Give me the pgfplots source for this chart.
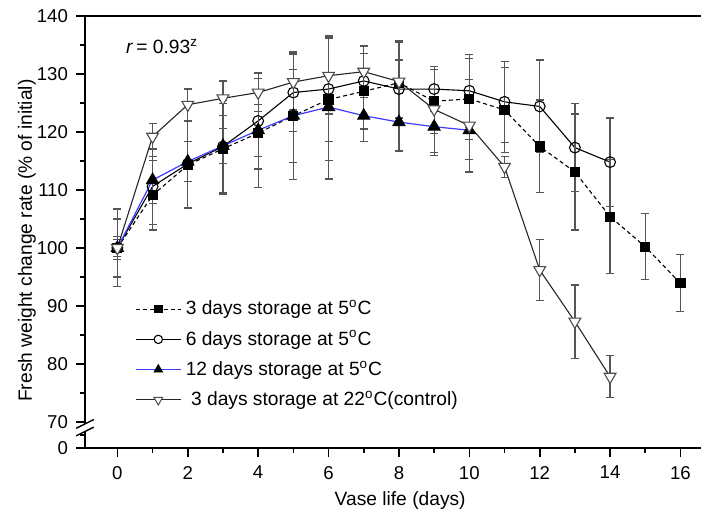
\documentclass[border=0pt]{standalone}
\usepackage{fontspec}
\setmainfont{Liberation Sans}
\usepackage{pgfplots}
\usepackage{pgfplotstable}
\pgfplotsset{compat=1.18}
\definecolor{ebar}{RGB}{85,85,85}
\definecolor{lineblue}{RGB}{60,60,255}

% day, mean, error
\pgfplotstableread{
x y e
0 100 1.5
1 109.1 6
2 114.3 7.5
3 117.1 7.8
4 119.8 9.4
5 122.8 11
6 125.6 10.5
7 127.0 6.5
8 128.5 7
9 125.3 5.5
10 125.7 7
11 123.8 7.3
12 117.5 8
13 113.1 10
14 105.4 9.8
15 100.2 5.7
16 93.9 4.9
}\tA
\pgfplotstableread{
x y e
0 100 5
1 110.6 6.5
2 114.5 7.5
3 117.5 8
4 121.9 8.3
5 126.8 6.7
6 127.4 9
7 128.8 6
8 127.4 5
9 127.4 3.9
10 127.1 6.3
11 125.2 7
12 124.4 8
13 117.3 7.6
14 114.8 7.6
}\tB
\pgfplotstableread{
x y e
0 100 2
1 111.7 4
2 114.9 3.5
3 117.6 3
4 120.3 4.5
5 122.8 8
6 124.3 12.4
7 122.8 4.5
8 121.7 5
9 120.9 5
10 120.3 5
}\tC
\pgfplotstableread{
x y e
0 100 6.7
1 119.2 2.2
2 124.7 2.7
3 125.8 3
4 126.8 3.3
5 128.6 4.8
6 129.7 6.6
7 130.4 4.5
8 128.7 7
9 123.9 7.4
10 121.1 8
11 114.0 1.8
12 96.2 5.3
13 87.3 6.3
14 77.8 3.6
}\tD

\begin{document}
\begin{tikzpicture}
\useasboundingbox (-42.5pt,-32pt) rectangle (308pt,224pt);
\begin{axis}[
  at={(0,0)}, anchor=south west,
  scale only axis, width=309pt, height=216pt,
  xmin=-0.92, xmax=16.64, ymin=65.5, ymax=140,
  clip=false,
  axis line style={line width=0.9pt},
  tick pos=left, tick align=outside,
  major tick length=4.5pt, minor tick length=2.5pt,
  tick style={line width=0.8pt, black},
  xtick={0,2,...,16}, minor xtick={1,3,...,15},
  ytick={65.5,70,80,...,140}, yticklabels={0,70,80,90,100,110,120,130,140},
  minor ytick={67.75,75,85,...,135},
  /pgf/number format/assume math mode=true,
  tick label style={font=\fontsize{9.3}{11}\selectfont},
  xticklabel style={yshift=-1pt},
  yticklabel style={xshift=-0.5pt},
  xlabel={Vase life (days)},
  ylabel={Fresh weight change rate (\% of initial)},
  label style={font=\fontsize{9.6}{11}\selectfont},
  xlabel style={at={(axis description cs:0.51,-0.122)}, anchor=center},
  ylabel style={at={(axis description cs:-0.094,0.48)}, anchor=center},
  legend style={draw=none, fill=none, at={(rel axis cs:0.08,0.352)}, anchor=north west,
    font=\fontsize{9.6}{11}\selectfont, row sep=2.4pt, inner sep=0pt},
  legend cell align=left,
  error bars/error bar style={color=ebar, line width=0.6pt, solid},
  error bars/error mark options={rotate=90, mark size=2pt, line width=0.6pt, color=ebar},
]
\addplot[forget plot, color=black, line width=0.55pt, dash pattern=on 2pt off 1.5pt, mark=square*,
  mark size=2.25pt, mark options={solid, fill=black},
  error bars/.cd, y dir=both, y explicit]
  table[x=x, y=y, y error=e] {\tA};
\addplot[forget plot, color=black, line width=0.55pt, mark=o, mark size=2.7pt, mark options={fill=white},
  error bars/.cd, y dir=both, y explicit]
  table[x=x, y=y, y error=e] {\tB};
\addplot[forget plot, color=lineblue, line width=0.6pt, mark=triangle*, mark size=3.4pt,
  mark options={draw=black, fill=black},
  error bars/.cd, y dir=both, y explicit]
  table[x=x, y=y, y error=e] {\tC};
\addplot[forget plot, color=black!85, line width=0.55pt, mark=triangle*, mark size=3.4pt,
  mark options={rotate=180, draw=black!70, fill=white},
  error bars/.cd, y dir=both, y explicit]
  table[x=x, y=y, y error=e] {\tD};
% legend entries
\addlegendimage{legend image code/.code={
  \draw[black, line width=0.55pt, dash pattern=on 2pt off 1.5pt] (0cm,0cm) -- (0.8cm,0cm);
  \fill[black] (0.4cm,0cm) ++(-1.9pt,-1.9pt) rectangle ++(3.8pt,3.8pt);}}
\addlegendentry{3 days storage at 5\textsuperscript{o}C}
\addlegendimage{legend image code/.code={
  \draw[black, line width=0.55pt] (0cm,0cm) -- (0.33cm,0cm);
  \draw[black, line width=0.55pt] (0.47cm,0cm) -- (0.8cm,0cm);
  \draw[black, line width=0.55pt, fill=white] (0.4cm,0cm) circle (2.1pt);}}
\addlegendentry{6 days storage at 5\textsuperscript{o}C}
\addlegendimage{legend image code/.code={
  \draw[lineblue, line width=0.7pt] (0cm,0cm) -- (0.8cm,0cm);
  \fill[black] (0.4cm,0cm) ++(90:2.5pt) -- ++(-120:4.3pt) -- ++(0:4.3pt) -- cycle;}}
\addlegendentry{12 days storage at 5\textsuperscript{o}C}
\addlegendimage{legend image code/.code={
  \draw[black!85, line width=0.55pt] (0cm,0cm) -- (0.8cm,0cm);
  \draw[black!70, line width=0.5pt, fill=white] (0.4cm,0cm) ++(-90:2.5pt) -- ++(120:4.3pt) -- ++(0:4.3pt) -- cycle;}}
\addlegendentry{\ 3 days storage at 22\textsuperscript{o}C(control)}
\node[anchor=west, font=\fontsize{9.6}{11}\selectfont] at (axis cs:0.05,134.7)
  {\textit{r}\,= 0.93\textsuperscript{z}};
% axis break
\fill[white] (axis cs:-0.97,68.4) rectangle (axis cs:-0.87,69.6);
\draw[line width=0.7pt] (axis cs:-1.17,68.9) -- (axis cs:-0.67,70.4);
\draw[line width=0.7pt] (axis cs:-1.17,67.6) -- (axis cs:-0.67,69.1);
\end{axis}
\end{tikzpicture}
\end{document}
